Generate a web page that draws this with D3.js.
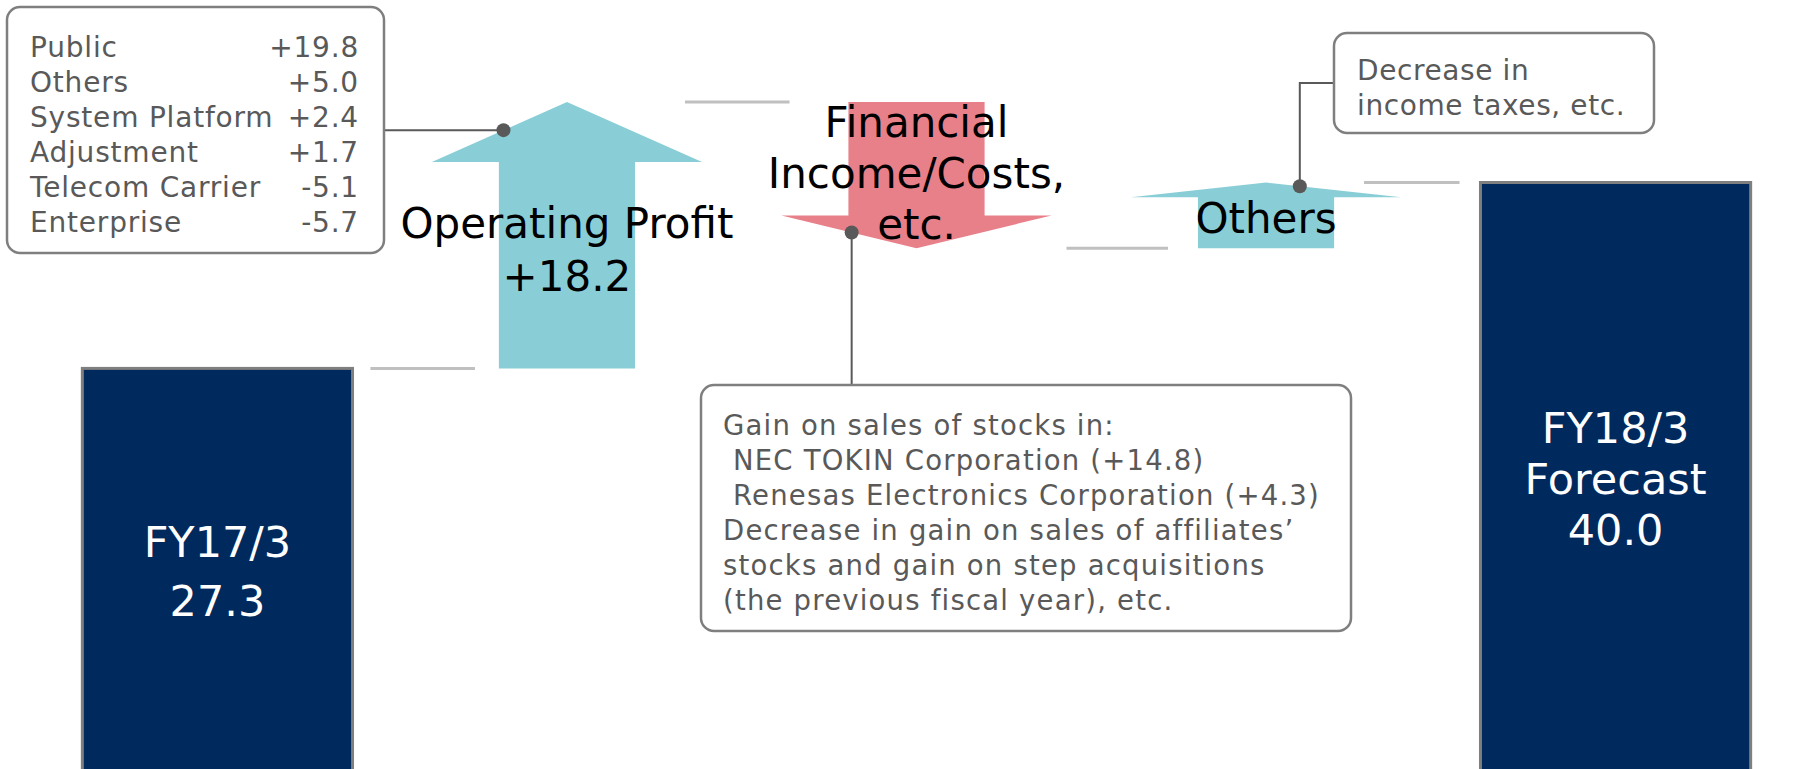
<!DOCTYPE html>
<html>
<head>
  <meta charset="utf-8">
  <script src="https://d3js.org/d3.v7.min.js"></script>
  <style>
    body { margin: 0; background: #fff; }
    text { font-family: "DejaVu Sans", Verdana, sans-serif; }
  </style>
</head>
<body>
<script>
  // waterfall steps
  var steps = ["FY17/3", "Operating Profit", "Financial Income/Costs, etc.", "Others", "FY18/3 Forecast"];
  var stepValues = [27.3, 18.2, -10.0, 4.5, 40.0];
  var stepKinds = ["total", "delta", "delta", "delta", "total"];
  var stepLabels = [
    ["FY17/3", "27.3"],
    ["Operating Profit", "+18.2"],
    ["Financial", "Income/Costs,", "etc."],
    ["Others"],
    ["FY18/3", "Forecast", "40.0"]
  ];

  // operating profit breakdown
  var segments = ["Public", "Others", "System Platform", "Adjustment", "Telecom Carrier", "Enterprise"];
  var segmentValues = [19.8, 5.0, 2.4, 1.7, -5.1, -5.7];

  // notes
  var financialNotes = [
    "Gain on sales of stocks in:",
    " NEC TOKIN Corporation (+14.8)",
    " Renesas Electronics Corporation (+4.3)",
    "Decrease in gain on sales of affiliates\u2019",
    "stocks and gain on step acquisitions",
    "(the previous fiscal year), etc."
  ];
  var othersNotes = ["Decrease in", "income taxes, etc."];

  var W = 1806, H = 769;
  var navy = "#002a5e", teal = "#89ced7", red = "#e8808a",
      grey = "#595959", boxStroke = "#7f7f7f", linkGrey = "#c0c0c0";

  var fmt = d3.formatLocale({decimal: ".", thousands: ",", grouping: [3], currency: ["", ""], minus: "-"});
  var signed = fmt.format("+.1f");

  var svg = d3.select("body").append("svg")
    .attr("width", W).attr("height", H);

  // running totals
  var levels = [];
  var run = 0;
  stepValues.forEach(function(v, i) {
    var start = stepKinds[i] == "total" ? 0 : run;
    var end = stepKinds[i] == "total" ? v : run + v;
    levels.push({start: start, end: end});
    run = end;
  });

  var x = d3.scaleBand().domain(steps).range([3, 1830]).padding(0.227);
  var y = d3.scaleLinear()
    .domain([0, d3.max(levels, function(d) { return Math.max(d.start, d.end); })])
    .range([768, 102]);

  var bw = x.bandwidth();
  var shaftW = bw * 0.504;

  // connector lines between steps (offsets from band centres)
  var linkOffsets = [[153, -92], [118, -127], [150, -98], [98, -156]];
  for (var i = 0; i < steps.length - 1; i++) {
    var cx0 = x(steps[i]) + bw / 2, cx1 = x(steps[i + 1]) + bw / 2;
    var ly = y(levels[i].end);
    svg.append("line")
      .attr("x1", cx0 + linkOffsets[i][0]).attr("x2", cx1 + linkOffsets[i][1])
      .attr("y1", ly).attr("y2", ly)
      .attr("stroke", linkGrey).attr("stroke-width", 3);
  }

  // arrow geometry, kept for the callout dots
  var heads = {};

  steps.forEach(function(s, i) {
    var cx = x(s) + bw / 2;
    var lv = levels[i];
    if (stepKinds[i] == "total") {
      svg.append("rect")
        .attr("x", x(s)).attr("y", y(lv.end))
        .attr("width", bw).attr("height", y(0) - y(lv.end) + 4)
        .attr("fill", navy).attr("stroke", boxStroke).attr("stroke-width", 3);
    } else {
      var y0 = y(lv.start), y1 = y(lv.end);
      var dir = y1 < y0 ? -1 : 1;
      var len = Math.abs(y1 - y0);
      var hb = y1 - dir * len * 0.225;
      var pts = [
        [cx - shaftW / 2, y0], [cx - shaftW / 2, hb], [cx - bw / 2, hb],
        [cx, y1], [cx + bw / 2, hb], [cx + shaftW / 2, hb], [cx + shaftW / 2, y0]
      ];
      heads[i] = {cx: cx, hb: hb, tip: y1};
      svg.append("path")
        .attr("d", d3.line()(pts) + "Z")
        .attr("fill", stepValues[i] >= 0 ? teal : red);
    }
  });

  // step labels
  var labelLayout = {
    0: {y: 557, gap: 59, fill: "#fff", size: 43},
    1: {y: 238, gap: 53, fill: "#000", size: 42},
    2: {y: 137, gap: 51, fill: "#000", size: 42},
    3: {y: 233, gap: 51, fill: "#000", size: 42},
    4: {y: 443, gap: 51, fill: "#fff", size: 43}
  };
  steps.forEach(function(s, i) {
    var L = labelLayout[i];
    var t = svg.append("text")
      .attr("text-anchor", "middle")
      .attr("font-size", L.size)
      .attr("fill", L.fill);
    stepLabels[i].forEach(function(line, k) {
      t.append("tspan").attr("x", x(s) + bw / 2).attr("y", L.y + k * L.gap).text(line);
    });
  });

  // point on a head edge (side -1 left, +1 right)
  function headPoint(i, side, f) {
    var h = heads[i];
    var ex = h.cx + side * bw / 2, ey = h.hb;
    return [ex + (h.cx - ex) * f, ey + (h.tip - ey) * f];
  }

  function box(x0, y0, x1, y1) {
    svg.append("rect")
      .attr("x", x0).attr("y", y0).attr("width", x1 - x0).attr("height", y1 - y0)
      .attr("rx", 13).attr("fill", "#fff")
      .attr("stroke", boxStroke).attr("stroke-width", 2.5);
  }

  function dot(p) {
    svg.append("circle").attr("cx", p[0]).attr("cy", p[1]).attr("r", 7).attr("fill", grey);
  }

  // operating profit breakdown callout
  var pOp = headPoint(1, -1, 0.53);
  svg.append("line").attr("x1", 384).attr("x2", pOp[0]).attr("y1", pOp[1]).attr("y2", pOp[1])
    .attr("stroke", grey).attr("stroke-width", 2);
  box(7, 7, 384, 253);
  segments.forEach(function(s, k) {
    svg.append("text").attr("x", 30).attr("y", 57 + k * 35)
      .attr("font-size", 28).attr("letter-spacing", 0.8).attr("fill", grey).text(s);
    svg.append("text").attr("x", 359).attr("y", 57 + k * 35)
      .attr("text-anchor", "end")
      .attr("font-size", 28).attr("letter-spacing", 0.8).attr("fill", grey).text(signed(segmentValues[k]));
  });
  dot(pOp);

  // financial callout
  var pFin = headPoint(2, -1, 0.52);
  svg.append("line").attr("x1", pFin[0]).attr("x2", pFin[0]).attr("y1", pFin[1]).attr("y2", 385)
    .attr("stroke", grey).attr("stroke-width", 2);
  box(701, 385, 1351, 631);
  financialNotes.forEach(function(s, k) {
    svg.append("text").attr("x", 723).attr("y", 435 + k * 35)
      .attr("font-size", 27.5).attr("letter-spacing", 1.2).attr("fill", grey)
      .style("white-space", "pre").text(s);
  });
  dot(pFin);

  // others callout
  var pOth = headPoint(3, 1, 0.75);
  svg.append("path")
    .attr("d", d3.line()([[pOth[0], pOth[1]], [pOth[0], 83], [1334, 83]]))
    .attr("fill", "none").attr("stroke", grey).attr("stroke-width", 2);
  box(1334, 33, 1654, 133);
  othersNotes.forEach(function(s, k) {
    svg.append("text").attr("x", 1357).attr("y", 80 + k * 35)
      .attr("font-size", 28).attr("letter-spacing", 0.6).attr("fill", grey).text(s);
  });
  dot(pOth);
</script>
</body>
</html>
